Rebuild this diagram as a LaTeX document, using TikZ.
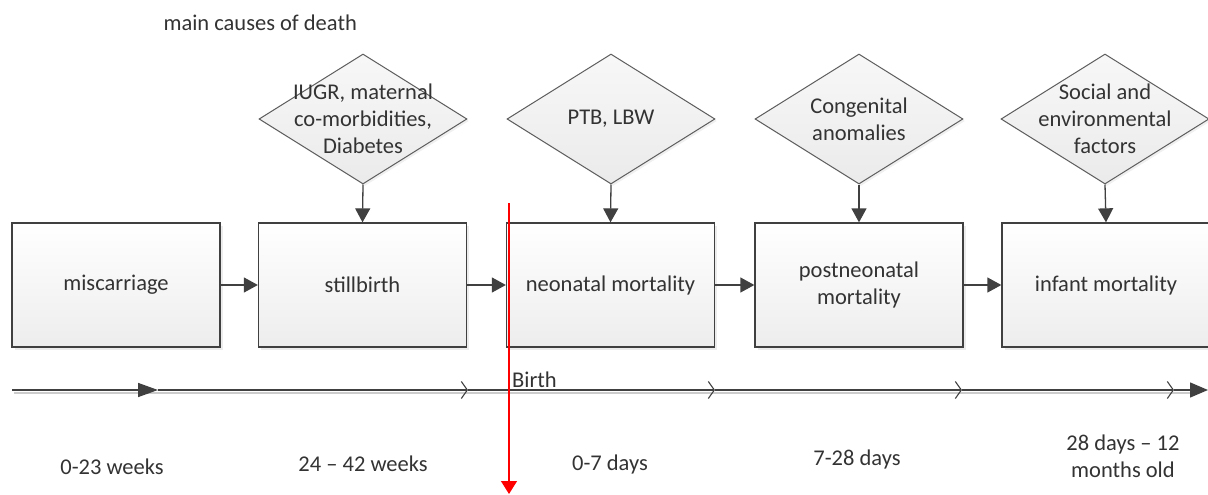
\documentclass[tikz,border=0pt]{standalone}
\usepackage{fontspec}
\setmainfont{Carlito}
\usetikzlibrary{arrows.meta,shapes.geometric,shadows}
\definecolor{edge}{HTML}{404040}
\definecolor{txt}{HTML}{333333}
\begin{document}
\begin{tikzpicture}[x=1pt,y=-1pt,
  every node/.style={font=\fontsize{22.5}{27}\selectfont, text=txt},
  box/.style={draw=edge, line width=1.3pt, minimum width=208pt, minimum height=124pt,
    inner sep=0pt, top color=white, bottom color=gray!14, align=center,
    drop shadow={shadow xshift=2.5pt, shadow yshift=-2.5pt, opacity=0.15}},
  dia/.style={shape=diamond, draw=edge!85, line width=1pt, minimum width=208pt,
    minimum height=130pt, inner sep=0pt, top color=gray!6, bottom color=gray!16,
    drop shadow={shadow xshift=2pt, shadow yshift=-2pt, opacity=0.12}},
  dtext/.style={align=center, text=txt},
  arr/.style={draw=edge, line width=1.3pt, -{Triangle[length=14pt,width=15pt]}},
  tl/.style={draw=edge, line width=1.5pt},
  tlshadow/.style={draw=gray!40, line width=1.2pt},
  chev/.style={tl, -{Straight Barb[length=6pt,width=17pt,line width=1.1pt]}},
  lbl/.style={align=center}
]
\useasboundingbox (0,0) rectangle (1208,495);

\node[anchor=west] (title) at (160,23) {main causes of death};

% boxes
\node[box] (b1) at (116,285) {miscarriage};
\node[box] (b2) at (362.5,285) {stillbirth};
\node[box] (b3) at (610.5,285) {neonatal mortality};
\node[box] (b4) at (859,285) {postneonatal\\mortality};
\node[box] (b5) at (1106,285) {infant mortality};

% diamonds
\node[dia, label={[dtext]center:{IUGR, maternal\\co-morbidities,\\Diabetes}}] (d1) at (363,119) {};
\node[dia, label={[dtext]center:{PTB, LBW}}] (d2) at (611,119) {};
\node[dia, label={[dtext]center:{Congenital\\anomalies}}] (d3) at (859,119) {};
\node[dia, label={[dtext]center:{Social and\\environmental\\factors}}] (d4) at (1105,119) {};

% arrows
\draw[arr] (b1.east) -- (b2.west);
\draw[arr] (b2.east) -- (b3.west);
\draw[arr] (b3.east) -- (b4.west);
\draw[arr] (b4.east) -- (b5.west);
\draw[arr] (d1.south) -- (b2.north);
\draw[arr] (d2.south) -- (b3.north);
\draw[arr] (d3.south) -- (b4.north);
\draw[arr] (d4.south) -- (b5.north);

% timeline
\coordinate (t0) at (12,390);
\coordinate (t1) at (158,390);
\coordinate (t2) at (468,390);
\coordinate (t3) at (715,390);
\coordinate (t4) at (962,390);
\coordinate (t5) at (1174,390);
\coordinate (t6) at (1208,390);
\coordinate (s0) at (14,393);
\coordinate (s6) at (1195,393);
\draw[tlshadow] (s0) -- (s6);
\draw[tl, -{Triangle[length=20pt,width=14pt]}] (t0) -- (t1);
\draw[chev] (t1) -- (t2);
\draw[chev] (t2) -- (t3);
\draw[chev] (t3) -- (t4);
\draw[chev] (t4) -- (t5);
\draw[tl, -{Triangle[length=18pt,width=15pt]}] (t5) -- (t6);

% birth marker
\coordinate (r0) at (509,203);
\coordinate (r1) at (509,494);
\draw[red, line width=1.3pt, -{Triangle[length=13pt,width=16pt]}] (r0) -- (r1);
\node[anchor=west, inner sep=0pt] (birth) at (512,380) {Birth};

% period labels
\node[lbl] (p1) at (112,467) {0-23 weeks};
\node[lbl] (p2) at (363,464) {24 – 42 weeks};
\node[lbl] (p3) at (610,464) {0-7 days};
\node[lbl] (p4) at (857,459) {7-28 days};
\node[lbl] (p5) at (1123,456) {28 days – 12\\months old};
\end{tikzpicture}
\end{document}
